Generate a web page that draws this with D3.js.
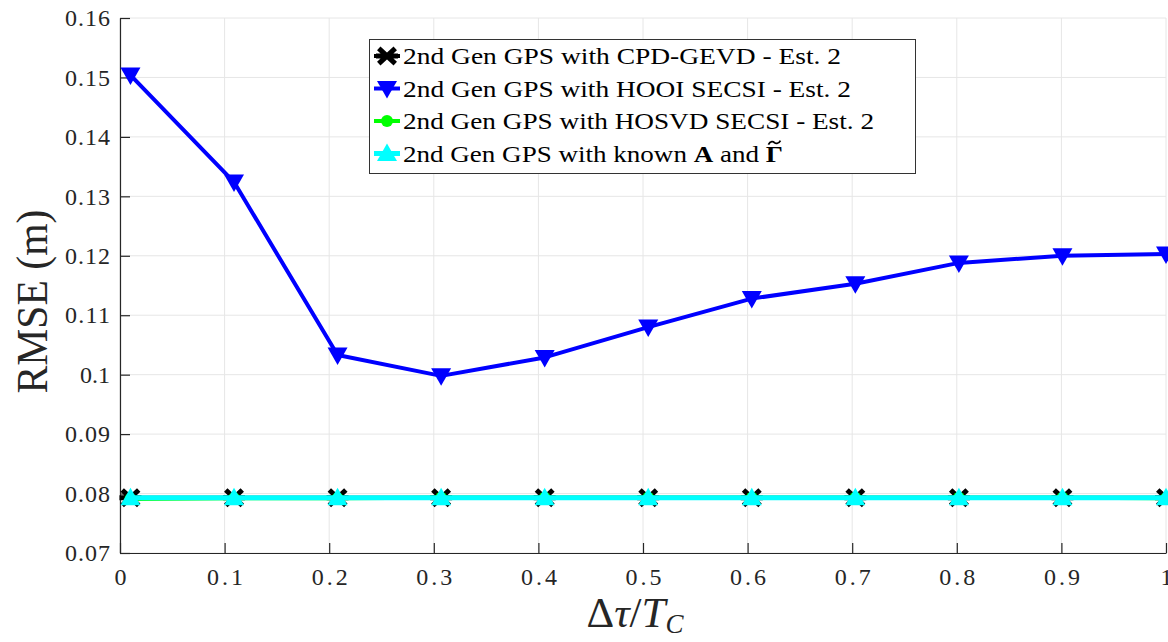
<!DOCTYPE html>
<html>
<head>
<meta charset="utf-8">
<script src="https://cdn.jsdelivr.net/npm/d3@7"></script>
<style>
  body { margin: 0; background: #fff; }
</style>
</head>
<body>
<svg width="1168" height="642"></svg>
<script>
// x positions of the samples (delta tau / T_C)
const xVals = [0.01, 0.109, 0.208, 0.307, 0.406, 0.505, 0.604, 0.703, 0.802, 0.901, 1.0];

const cpdGevd = [0.0793, 0.0793, 0.0793, 0.0793, 0.0793, 0.0793, 0.0793, 0.0793, 0.0793, 0.0793, 0.0793];
const hooiSecsi = [0.1504, 0.1324, 0.1033, 0.0998, 0.1029, 0.1080, 0.1128, 0.1153, 0.1188, 0.1200, 0.1203];
const hosvdSecsi = [0.0791, 0.0792, 0.0792, 0.0793, 0.0793, 0.0793, 0.0793, 0.0793, 0.0793, 0.0793, 0.0792];
const knownA = [0.0793, 0.0793, 0.0793, 0.0793, 0.0793, 0.0793, 0.0793, 0.0793, 0.0793, 0.0793, 0.0793];

const xTicks = [0, 0.1, 0.2, 0.3, 0.4, 0.5, 0.6, 0.7, 0.8, 0.9, 1];
const yTicks = [0.07, 0.08, 0.09, 0.1, 0.11, 0.12, 0.13, 0.14, 0.15, 0.16];

const series = [
  { name: "2nd Gen GPS with CPD-GEVD - Est. 2", values: cpdGevd, color: "#000000", marker: "star", width: 4, len: 438 },
  { name: "2nd Gen GPS with HOOI SECSI - Est. 2", values: hooiSecsi, color: "#0000ff", marker: "tri-down", width: 4, len: 448 },
  { name: "2nd Gen GPS with HOSVD SECSI - Est. 2", values: hosvdSecsi, color: "#00ff00", marker: "circle", width: 4, len: 471 },
  { name: "2nd Gen GPS with known", values: knownA, color: "#00ffff", marker: "tri-up", width: 5, len: 380 }
];

const serif = "'Liberation Serif', 'Times New Roman', serif";
const svg = d3.select("svg");
const mLeft = 120, mRight = 1166, mTop = 18, mBottom = 553;

const x = d3.scaleLinear().domain([0, 1]).range([mLeft, mRight]);
const y = d3.scaleLinear().domain([0.07, 0.16]).range([mBottom, mTop]);

// grid
svg.append("g").selectAll("line").data(xTicks).enter().append("line")
  .attr("x1", d => x(d)).attr("x2", d => x(d))
  .attr("y1", mTop).attr("y2", mBottom)
  .attr("stroke", "#e6e6e6").attr("stroke-width", 1);
svg.append("g").selectAll("line").data(yTicks).enter().append("line")
  .attr("x1", mLeft).attr("x2", mRight)
  .attr("y1", d => y(d)).attr("y2", d => y(d))
  .attr("stroke", "#e6e6e6").attr("stroke-width", 1);

// axes
const axisColor = "#262626";
const xAxis = svg.append("g")
  .attr("transform", `translate(0,${mBottom})`)
  .call(d3.axisBottom(x).tickValues(xTicks).tickFormat(d => d3.format("")(d)).tickSizeInner(-10).tickSizeOuter(0).tickPadding(15));
const yAxis = svg.append("g")
  .attr("transform", `translate(${mLeft},0)`)
  .call(d3.axisLeft(y).tickValues(yTicks).tickFormat(d => d3.format("")(+d.toFixed(2))).tickSizeInner(-10).tickSizeOuter(0).tickPadding(10));
[xAxis, yAxis].forEach(a => {
  a.attr("font-family", serif).attr("font-size", 24);
  a.select(".domain").attr("stroke", axisColor).attr("stroke-width", 1.2);
  a.selectAll(".tick line").attr("stroke", axisColor).attr("stroke-width", 1.2);
  a.selectAll(".tick text").attr("fill", axisColor);
});
xAxis.selectAll(".tick text").attr("textLength", d => d === 0 || d === 1 ? null : 36);
yAxis.selectAll(".tick text").attr("textLength", d => (+d.toFixed(2) === 0.1 ? 30 : 45));

// markers
function drawMarker(g, type, color, cx, cy) {
  if (type === "star") {
    const r = 11;
    const path = `M${cx - r},${cy}L${cx + r},${cy}` +
      `M${cx - r * 0.75},${cy - r * 0.7}L${cx + r * 0.75},${cy + r * 0.7}` +
      `M${cx - r * 0.75},${cy + r * 0.7}L${cx + r * 0.75},${cy - r * 0.7}`;
    g.append("path").attr("d", path).attr("stroke", color).attr("stroke-width", 5).attr("fill", "none");
  } else if (type === "circle") {
    g.append("circle").attr("cx", cx).attr("cy", cy).attr("r", 6).attr("fill", color);
  } else if (type === "tri-down") {
    const s = 10;
    g.append("path").attr("d", `M${cx - s},${cy - s * 0.75}L${cx + s},${cy - s * 0.75}L${cx},${cy + s}Z`)
      .attr("fill", color);
  } else if (type === "tri-up") {
    const s = 10;
    g.append("path").attr("d", `M${cx - s},${cy + s * 0.75}L${cx + s},${cy + s * 0.75}L${cx},${cy - s}Z`)
      .attr("fill", color);
  }
}

const line = d3.line().x((d, i) => x(xVals[i])).y(d => y(d));

const plot = svg.append("g");
series.forEach(s => {
  const g = plot.append("g");
  g.append("path").datum(s.values).attr("d", line)
    .attr("fill", "none").attr("stroke", s.color).attr("stroke-width", s.width)
    .attr("stroke-linejoin", "round");
  s.values.forEach((v, i) => drawMarker(g, s.marker, s.color, x(xVals[i]), y(v)));
});

// axis labels
svg.append("text")
  .attr("transform", `translate(47,${(mTop + mBottom) / 2 + 16}) rotate(-90)`)
  .attr("text-anchor", "middle")
  .attr("font-family", serif).attr("font-size", 44).attr("fill", "#262626")
  .attr("textLength", 184).attr("lengthAdjust", "spacingAndGlyphs")
  .text("RMSE (m)");

const xl = svg.append("text")
  .attr("x", x(0.5) - 8).attr("y", 627)
  .attr("text-anchor", "middle")
  .attr("font-family", serif).attr("font-size", 43).attr("fill", "#262626");
xl.append("tspan").text("Δ");
xl.append("tspan").style("font-style", "italic").text("τ");
xl.append("tspan").text("/");
xl.append("tspan").style("font-style", "italic").text("T");
xl.append("tspan").style("font-style", "italic").attr("font-size", 27).attr("dy", 6).text("C");

// legend
const lg = svg.append("g");
lg.append("rect").attr("x", 369.5).attr("y", 39.5).attr("width", 546).attr("height", 134)
  .attr("fill", "#fff").attr("stroke", "#333").attr("stroke-width", 1);
series.forEach((s, i) => {
  const cy = 56 + i * 32.5;
  const row = lg.append("g");
  row.append("line").attr("x1", 374).attr("x2", 400).attr("y1", cy).attr("y2", cy)
    .attr("stroke", s.color).attr("stroke-width", s.width);
  drawMarker(row, s.marker, s.color, 387, cy);
  const t = row.append("text").attr("x", 403).attr("y", cy).attr("dy", "0.35em")
    .attr("font-family", serif).attr("font-size", 23).attr("fill", "#000")
    .attr("textLength", s.len).attr("lengthAdjust", "spacingAndGlyphs");
  if (i < 3) {
    t.text(s.name);
  } else {
    t.append("tspan").text(s.name + " ");
    t.append("tspan").attr("font-weight", "bold").text("A");
    t.append("tspan").text(" and ");
    t.append("tspan").attr("font-weight", "bold").text("Γ");
    // tilde accent over the Gamma, drawn as a small curve
    const n = t.node();
    const ext = n.getExtentOfChar(n.getNumberOfChars() - 1);
    const tx = ext.x + ext.width / 2, ty = ext.y + 1;
    row.append("path")
      .attr("d", `M${tx - 6},${ty + 2}C${tx - 4},${ty - 2} ${tx - 1},${ty - 1} ${tx},${ty}S${tx + 4},${ty + 2} ${tx + 6},${ty - 2}`)
      .attr("fill", "none").attr("stroke", "#000").attr("stroke-width", 1.8);
  }
});
</script>
</body>
</html>
